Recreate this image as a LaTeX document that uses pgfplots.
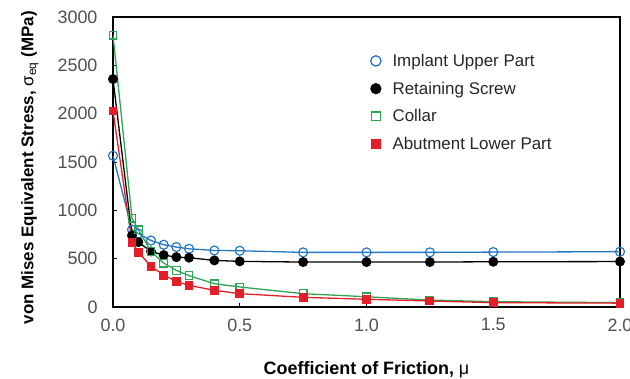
\documentclass[border=0pt]{standalone}
\usepackage{pgfplots}
\pgfplotsset{compat=1.18}
\usepackage{fontspec}
\setmainfont{Liberation Sans}
\definecolor{cblue}{RGB}{35,120,195}
\definecolor{cgreen}{RGB}{45,165,85}
\definecolor{cred}{RGB}{228,30,40}
\definecolor{tgray}{RGB}{80,80,80}
\begin{document}
\begin{tikzpicture}[x=1bp,y=1bp]
\useasboundingbox (-113bp,-72bp) rectangle (517bp,307bp);
\begin{axis}[
  at={(0bp,0bp)}, anchor=south west,
  scale only axis, width=507bp, height=290bp,
  xmin=0, xmax=2, ymin=0, ymax=3000,
  xtick={0,0.5,1,1.5,2}, ytick={0,500,1000,1500,2000,2500,3000},
  tick pos=left, tick align=inside, major tick length=4bp,
  axis line style={line width=1.3pt},
  tick style={line width=1pt, black},
  xticklabel style={/pgf/number format/.cd, fixed, fixed zerofill, precision=1},
  yticklabel style={/pgf/number format/.cd, fixed, 1000 sep={}},
  /pgf/number format/assume math mode=true,
  ticklabel style={font=\fontsize{18}{20}\selectfont, text=tgray},
  xticklabel shift=8bp,
  yticklabel shift=12bp,
  xlabel={\textbf{Coefficient of Friction, }μ},
  ylabel={\textbf{von Mises Equivalent Stress, }σ\textsubscript{eq}\textbf{ (MPa)}},
  xlabel style={font=\fontsize{18}{20}\selectfont, at={(axis description cs:0.5,-0.217)}, anchor=center},
  ylabel style={font=\fontsize{17}{19}\selectfont, at={(axis description cs:-0.164,0.48)}, anchor=center},
  legend style={draw=none, fill=none, at={(0.505,0.705)}, anchor=west, font=\fontsize{17}{20}\selectfont, row sep=10bp, text=black!85, inner sep=0pt},
  legend cell align=left,
  legend image code/.code={\path (0bp,0bp) (20bp,0bp); \draw[#1] plot[only marks, mark options={scale=1.15}] coordinates {(6bp,0bp)};},
  every axis plot/.append style={line width=1.3pt},
]
\addplot[cblue, mark=o, mark size=4.5bp, mark options={line width=1.2pt, fill=white}] coordinates {
(0,1565) (0.075,800) (0.1,760) (0.15,688) (0.2,644) (0.25,620) (0.3,602) (0.4,585) (0.5,582) (0.75,565) (1.0,565) (1.25,565) (1.5,568) (2.0,572)};
\addlegendentry{Implant Upper Part}
\addplot[black, mark=*, mark size=4.3bp] coordinates {
(0,2358) (0.075,740) (0.1,671) (0.15,575) (0.2,537) (0.25,516) (0.3,510) (0.4,482) (0.5,472) (0.75,465) (1.0,465) (1.25,465) (1.5,468) (2.0,470)};
\addlegendentry{Retaining Screw}
\addplot[cgreen, mark=square, mark size=3.8bp, mark options={line width=1.2pt, fill=white}] coordinates {
(0,2812) (0.075,919) (0.1,799) (0.15,575) (0.2,454) (0.25,379) (0.3,324) (0.4,241) (0.5,207) (0.75,138) (1.0,106) (1.25,72) (1.5,55) (2.0,45)};
\addlegendentry{Collar}
\addplot[cred, mark=square*, mark size=3.8bp] coordinates {
(0,2028) (0.075,668) (0.1,568) (0.15,420) (0.2,330) (0.25,265) (0.3,224) (0.4,172) (0.5,138) (0.75,100) (1.0,80) (1.25,62) (1.5,45) (2.0,40)};
\addlegendentry{Abutment Lower Part}
\end{axis}
\end{tikzpicture}
\end{document}
